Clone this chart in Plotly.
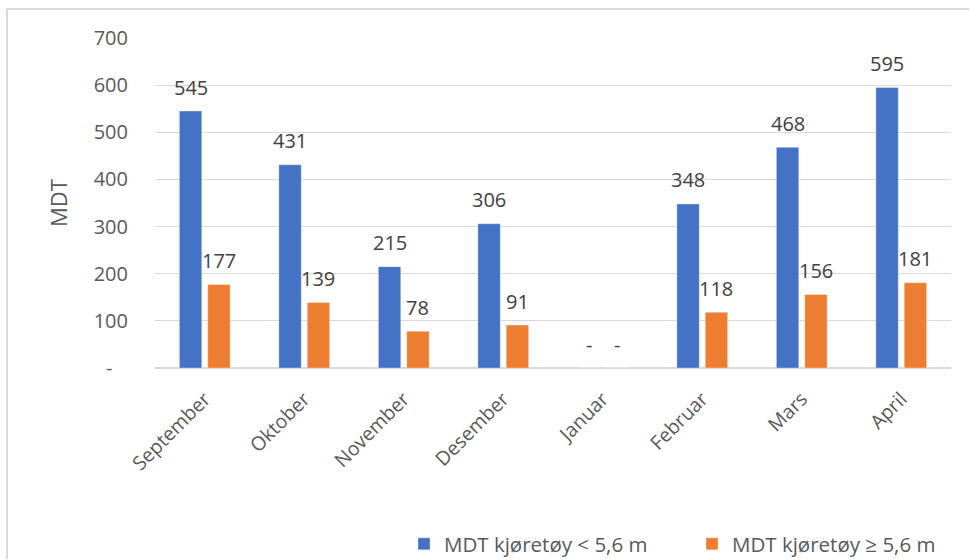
import plotly.graph_objects as go

months = ["September", "Oktober", "November", "Desember", "Januar", "Februar", "Mars", "April"]
small_vehicles = [545, 431, 215, 306, 0, 348, 468, 595]
large_vehicles = [177, 139, 78, 91, 0, 118, 156, 181]
series_names = ["MDT kjøretøy < 5,6 m", "MDT kjøretøy ≥ 5,6 m"]
y_ticks = [0, 100, 200, 300, 400, 500, 600, 700]
y_tick_text = ["-\u00a0\u00a0\u00a0", "100", "200", "300", "400", "500", "600", "700"]

BLUE = "#4472C4"
ORANGE = "#ED7D31"
GRID = "#d9d9d9"
FONT = "Open Sans"

W, H = 970, 560
L, R, T, B = 155, 19, 38, 192
plot_w = W - L - R
plot_h = H - T - B
BARGAP = 0.43
BARGROUPGAP = 0.21


def px_x(px):
    return (px - L) / plot_w


def px_y(py):
    return (H - B - py) / plot_h


fig = go.Figure()
for name, vals, color in [(series_names[0], small_vehicles, BLUE),
                          (series_names[1], large_vehicles, ORANGE)]:
    fig.add_trace(go.Bar(
        x=months, y=vals, name=name,
        marker=dict(color=color, line=dict(color="rgba(255,255,255,0.35)", width=1)),
        hoverinfo="x+y",
    ))

# value labels above each bar ("-" for zero, accounting style)
slot = plot_w / len(months)
half_offset = slot * (1 - BARGAP) / 4
annotations = []
for vals, shift in [(small_vehicles, -half_offset), (large_vehicles, half_offset)]:
    for m, v in zip(months, vals):
        annotations.append(dict(
            x=m, y=v, xref="x", yref="y", xshift=shift, yshift=24,
            text="-" if v == 0 else str(v), showarrow=False,
            yanchor="middle", xanchor="center",
            font=dict(family=FONT, size=20, color="#404040"),
        ))

# axis title
annotations.append(dict(
    x=px_x(58), y=0.5, xref="paper", yref="paper",
    text="MDT", textangle=-90, showarrow=False,
    xanchor="center", yanchor="middle",
    font=dict(family=FONT, size=22, color="#595959"),
))

# chart frame: left and top edges
shapes = [
    dict(type="line", xref="paper", yref="paper",
         x0=px_x(7), x1=px_x(7), y0=px_y(9), y1=px_y(559),
         line=dict(color=GRID, width=2)),
    dict(type="line", xref="paper", yref="paper",
         x0=px_x(7), x1=px_x(969), y0=px_y(9), y1=px_y(9),
         line=dict(color=GRID, width=2)),
]

fig.update_layout(
    width=W, height=H,
    margin=dict(l=L, r=R, t=T, b=B, autoexpand=False),
    paper_bgcolor="white", plot_bgcolor="white",
    barmode="group", bargap=BARGAP, bargroupgap=BARGROUPGAP,
    font=dict(family=FONT, color="#595959"),
    annotations=annotations,
    shapes=shapes,
    showlegend=True,
    legend=dict(
        orientation="h", x=px_x(404), y=px_y(544),
        xanchor="left", yanchor="middle",
        font=dict(family=FONT, size=20.5, color="#595959"),
        entrywidth=243, entrywidthmode="pixels",
        bgcolor="rgba(0,0,0,0)",
    ),
    xaxis=dict(
        tickangle=-45, tickfont=dict(family=FONT, size=19.5, color="#595959"),
        showline=False, showgrid=False,
        ticks="outside", ticklen=11, tickcolor="rgba(0,0,0,0)",
    ),
    yaxis=dict(
        range=[0, 700], tickvals=y_ticks, ticktext=y_tick_text,
        tickfont=dict(family=FONT, size=20, color="#595959"),
        showgrid=True, gridcolor=GRID, gridwidth=1,
        zeroline=True, zerolinecolor=GRID, zerolinewidth=2,
        ticks="outside", ticklen=22, tickcolor="rgba(0,0,0,0)",
        showline=False,
    ),
)

fig.write_html("out.html")
